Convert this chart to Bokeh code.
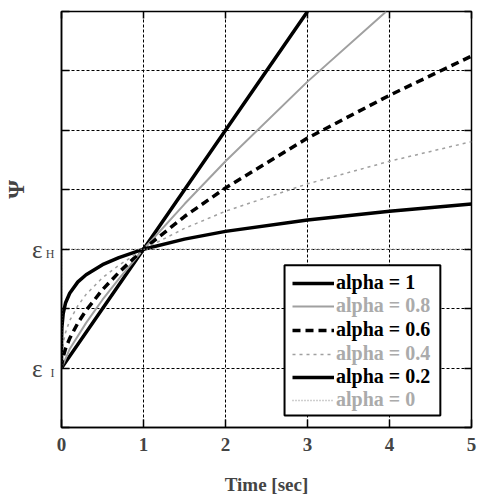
from bokeh.plotting import figure
from bokeh.models import Legend, LegendItem, FixedTicker, Range1d, LinearAxis
from bokeh.embed import file_html
from bokeh.resources import INLINE

# ---- data ----
t_a10 = [0.0, 1.0, 2.0, 3.0]
y_a10 = [1.0, 3.0, 5.0, 7.0]

t_a08 = [0.0, 0.1, 0.3, 0.5, 0.7, 1.0, 1.5, 2.0, 3.0, 3.96]
y_a08 = [1.0, 1.32, 1.76, 2.15, 2.50, 3.0, 3.76, 4.48, 5.82, 7.0]

t_a06 = [0.0, 0.005, 0.02, 0.05, 0.1, 0.2, 0.3, 0.5, 0.7, 1.0, 1.5, 2.0, 3.0, 4.0, 5.0]
y_a06 = [1.0, 1.08, 1.19, 1.33, 1.50, 1.76, 1.97, 2.32, 2.61, 3.0, 3.55, 4.03, 4.87, 5.59, 6.25]

t_a04 = [0.0, 0.005, 0.02, 0.05, 0.1, 0.2, 0.3, 0.5, 0.7, 1.0, 1.5, 2.0, 3.0, 4.0, 5.0]
y_a04 = [1.0, 1.24, 1.42, 1.60, 1.80, 2.05, 2.24, 2.52, 2.73, 3.0, 3.35, 3.64, 4.10, 4.48, 4.81]

t_a02 = [0.0, 0.001, 0.005, 0.02, 0.05, 0.1, 0.2, 0.3, 0.5, 0.7, 1.0, 1.5, 2.0, 3.0, 4.0, 5.0]
y_a02 = [1.0, 1.50, 1.69, 1.91, 2.10, 2.26, 2.45, 2.57, 2.74, 2.86, 3.0, 3.17, 3.30, 3.49, 3.64, 3.76]

t_a00 = [0.0, 0.0, 5.0]
y_a00 = [1.0, 3.0, 3.0]

x_ticks = [0, 1, 2, 3, 4, 5]
y_ticks = [0, 1, 2, 3, 4, 5, 6, 7]
y_label_ticks = [1, 3]
y_tick_labels = {1: "ε", 3: "ε"}
y_sub_labels = {1: "I", 3: "H"}
legend_labels = ["alpha = 1", "alpha = 0.8", "alpha = 0.6", "alpha = 0.4", "alpha = 0.2", "alpha = 0"]

SERIF = "Liberation Serif"
GRAY = "#a0a0a0"
GRAY_TEXT = "#ababab"
NBSP = "\u00a0"

p = figure(frame_width=410, frame_height=416,
           x_range=Range1d(0, 5), y_range=Range1d(0, 7),
           output_backend="svg", toolbar_location=None,
           min_border_left=54, min_border_right=6, min_border_top=11, min_border_bottom=60)

p.outline_line_color = "black"
p.outline_line_width = 1.5
p.background_fill_color = "white"

# x axis
xa = p.xaxis[0]
xa.ticker = FixedTicker(ticks=x_ticks)
xa.axis_line_color = "black"
xa.axis_line_width = 1.5
xa.major_tick_in = 8
xa.major_tick_out = 0
xa.major_tick_line_width = 1.5
xa.minor_tick_line_color = None
xa.major_label_text_font = SERIF
xa.major_label_text_font_style = "bold"
xa.major_label_text_font_size = "19px"
xa.major_label_standoff = 10
xa.axis_label = "Time [sec]"
xa.axis_label_text_font = SERIF
xa.axis_label_text_font_style = "bold"
xa.axis_label_text_font_size = "19px"
xa.axis_label_standoff = 20

# inner y axis: ticks + subscripts (pushed down by an empty first line)
ya = p.yaxis[0]
ya.ticker = FixedTicker(ticks=y_ticks)
ya.major_label_overrides = {v: ("\n" + y_sub_labels[v]) if v in y_sub_labels else "" for v in y_ticks}
ya.axis_line_color = "black"
ya.axis_line_width = 1.5
ya.major_tick_in = 8
ya.major_tick_out = 0
ya.major_tick_line_width = 1.5
ya.minor_tick_line_color = None
ya.major_label_text_font = SERIF
ya.major_label_text_font_size = "12px"
ya.major_label_text_line_height = 0.65
ya.major_label_standoff = 7

# outer y axis: epsilon + axis title
yo = LinearAxis(ticker=FixedTicker(ticks=y_label_ticks),
                major_label_overrides=y_tick_labels,
                axis_line_color=None, major_tick_line_color=None, minor_tick_line_color=None,
                major_tick_in=0, major_tick_out=0, major_label_standoff=0,
                major_label_text_font=SERIF, major_label_text_font_size="25px",
                axis_label=NBSP * 10 + "Ψ", axis_label_text_font=SERIF,
                axis_label_text_font_style="bold",
                axis_label_text_font_size="24px", axis_label_standoff=0)
p.add_layout(yo, "left")

# inward ticks on the right and top edges
yr = LinearAxis(ticker=FixedTicker(ticks=y_ticks),
                major_label_overrides={v: "" for v in y_ticks},
                axis_line_color=None, minor_tick_line_color=None,
                major_tick_in=7, major_tick_out=0, major_tick_line_width=1.5,
                major_label_standoff=0, major_label_text_font_size="1px")
p.add_layout(yr, "right")
xt = LinearAxis(ticker=FixedTicker(ticks=x_ticks),
                major_label_overrides={v: "" for v in x_ticks},
                axis_line_color=None, minor_tick_line_color=None,
                major_tick_in=7, major_tick_out=0, major_tick_line_width=1.5,
                major_label_standoff=0, major_label_text_font_size="1px")
p.add_layout(xt, "above")

p.grid.grid_line_color = "black"
p.grid.grid_line_dash = "3 2"
p.grid.grid_line_width = 1

# curves
r10 = p.line(t_a10, y_a10, line_color="black", line_width=3.5)
r08 = p.line(t_a08, y_a08, line_color=GRAY, line_width=2)
r06 = p.line(t_a06, y_a06, line_color="black", line_width=3.5, line_dash="8 5")
r04 = p.line(t_a04, y_a04, line_color=GRAY, line_width=1.5, line_dash="3 4")
r02 = p.line(t_a02, y_a02, line_color="black", line_width=3.5)
r00 = p.line(t_a00, y_a00, line_color=GRAY, line_width=1.5, line_dash="1 2")

# legend box
p.quad(left=[2.72], right=[4.62], bottom=[0.20], top=[2.73],
       fill_color="white", line_color="black", line_width=2)

renderers = [r10, r08, r06, r04, r02, r00]
colors = ["black", GRAY_TEXT, "black", GRAY_TEXT, "black", GRAY_TEXT]
row_bottoms = [133, 110, 86, 62, 39, 16]
for r, lab, c, yb in zip(renderers, legend_labels, colors, row_bottoms):
    lg = Legend(items=[LegendItem(label=lab, renderers=[r])], location=(231, yb),
                margin=0, padding=0, spacing=0,
                background_fill_alpha=0, border_line_alpha=0,
                glyph_width=42, glyph_height=22, label_standoff=2,
                label_text_font=SERIF, label_text_font_style="bold",
                label_text_font_size="20px", label_text_color=c,
                label_height=22)
    p.add_layout(lg, "center")

open("out.html", "w").write(file_html(p, INLINE))
